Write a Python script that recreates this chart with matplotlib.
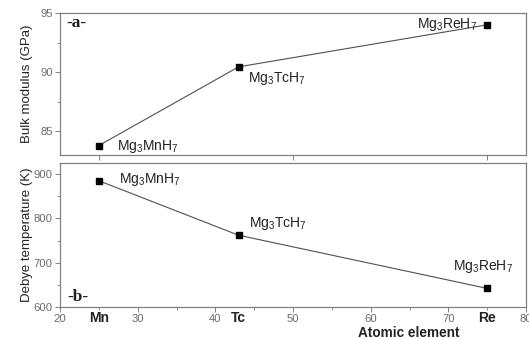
import matplotlib
matplotlib.use("Agg")
import matplotlib.pyplot as plt
from matplotlib.ticker import MultipleLocator, FixedLocator, NullFormatter
import matplotlib.transforms as mtransforms

plt.rcParams['font.family'] = ['Liberation Sans', 'DejaVu Sans']
plt.rcParams['mathtext.default'] = 'regular'

# Data
atomic_number = [25, 43, 75]
elements = ['Mn', 'Tc', 'Re']
compounds = [r'Mg$_3$MnH$_7$', r'Mg$_3$TcH$_7$', r'Mg$_3$ReH$_7$']
bulk_modulus = [83.8, 90.45, 94.0]
debye_temp = [885, 762, 642]

W, H = 529, 339
fig = plt.figure(figsize=(W / 100, H / 100), dpi=100)

def frac(l, t, r, b):
    return [l / W, 1 - b / H, (r - l) / W, (b - t) / H]

ax1 = fig.add_axes(frac(60, 13, 526, 155))
ax2 = fig.add_axes(frac(60, 163, 526, 307))

spine_c = '#808080'
tick_c = '#6a6a6a'
line_c = '#505050'

for ax in (ax1, ax2):
    for s in ax.spines.values():
        s.set_color(spine_c)
        s.set_linewidth(0.9)
    ax.tick_params(which='both', direction='out', colors=spine_c, labelcolor=tick_c,
                   labelsize=8.1, top=False, right=False)
    ax.tick_params(which='major', length=3.5, width=0.7, pad=1.8)
    ax.tick_params(which='minor', length=2, width=0.6)
    ax.set_xlim(20, 80)

# Top panel
ax1.plot(atomic_number, bulk_modulus, color=line_c, lw=0.8, marker='s', ms=4,
         mfc='black', mec='black', zorder=3)
ax1.set_ylim(83, 95)
ax1.yaxis.set_major_locator(MultipleLocator(5))
ax1.yaxis.set_minor_locator(MultipleLocator(2.5))
ax1.xaxis.set_major_locator(FixedLocator([25, 50, 75]))
ax1.xaxis.set_major_formatter(NullFormatter())
ax1.set_ylabel('Bulk modulus (GPa)', fontsize=9.5, color='#222222')
ax1.yaxis.set_label_coords(-0.058, 0.5)

offs1 = [(18, -4), (9, -15), (-10, -3)]
has1 = ['left', 'left', 'right']
for x, y, c, o, h in zip(atomic_number, bulk_modulus, compounds, offs1, has1):
    ax1.annotate(c, (x, y), xytext=o, textcoords='offset pixels', ha=h, va='baseline',
                 fontsize=10, color='#222222')
ax1.text(0.013, 0.90, '-a-', transform=ax1.transAxes, fontsize=12.5, fontweight='bold',
         family='Liberation Serif', ha='left', va='baseline', color='#222222')

# Bottom panel
ax2.plot(atomic_number, debye_temp, color=line_c, lw=0.8, marker='s', ms=4,
         mfc='black', mec='black', zorder=3)
ax2.set_ylim(600, 925)
ax2.yaxis.set_major_locator(MultipleLocator(100))
ax2.yaxis.set_minor_locator(MultipleLocator(50))
ax2.xaxis.set_major_locator(MultipleLocator(10))
ax2.xaxis.set_minor_locator(MultipleLocator(5))
ax2.set_ylabel('Debye temperature (K)', fontsize=9.5, color='#222222')
ax2.yaxis.set_label_coords(-0.058, 0.5)

offs2 = [(20, -2), (10, 8), (-34, 18)]
for x, y, c, o in zip(atomic_number, debye_temp, compounds, offs2):
    ax2.annotate(c, (x, y), xytext=o, textcoords='offset pixels', ha='left', va='baseline',
                 fontsize=10, color='#222222')
ax2.text(0.016, 0.042, '-b-', transform=ax2.transAxes, fontsize=12.5, fontweight='bold',
         family='Liberation Serif', ha='left', va='baseline', color='#222222')

trans = mtransforms.blended_transform_factory(ax2.transData, ax2.transAxes)
for x, e in zip(atomic_number, elements):
    ax2.text(x, -0.025, e, transform=trans, ha='center', va='top', fontsize=10,
             fontweight='bold', color='#222222')

ax2.text(0.748, -0.205, 'Atomic element', transform=ax2.transAxes, ha='center',
         va='baseline', fontsize=9.8, fontweight='bold', color='#222222')

fig.savefig('out.png', dpi=100)
